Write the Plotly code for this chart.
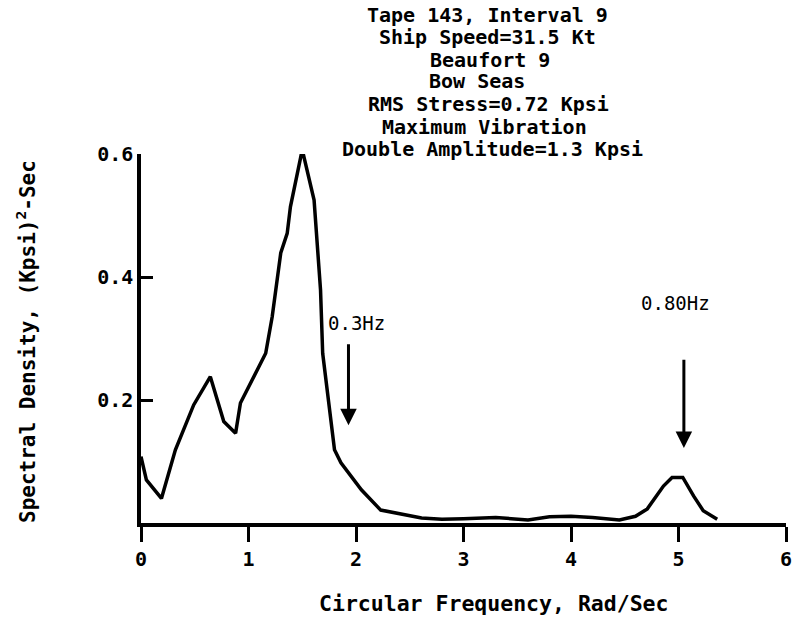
import plotly.graph_objects as go

# Data
freq = [0, 0.05, 0.19, 0.32, 0.49, 0.645, 0.77, 0.88, 0.925, 1.03, 1.16, 1.22,
        1.30, 1.36, 1.39, 1.50, 1.61, 1.67, 1.69, 1.80, 1.86, 2.05, 2.23, 2.61,
        2.8, 3.0, 3.3, 3.6, 3.8, 4.0, 4.2, 4.45, 4.6, 4.71, 4.86, 4.94, 5.04,
        5.14, 5.23, 5.36]
density = [0.108, 0.07, 0.04, 0.119, 0.192, 0.238, 0.165, 0.146, 0.195, 0.232,
           0.276, 0.335, 0.439, 0.471, 0.514, 0.607, 0.525, 0.379, 0.276, 0.119,
           0.098, 0.054, 0.021, 0.008, 0.006, 0.007, 0.009, 0.005, 0.010, 0.011,
           0.009, 0.005, 0.011, 0.023, 0.060, 0.074, 0.074, 0.044, 0.020, 0.006]

x_ticks = [0, 1, 2, 3, 4, 5, 6]
x_tick_labels = ["0", "1", "2", "3", "4", "5", "6"]
y_ticks = [0.2, 0.4, 0.6]
y_tick_labels = ["0.2", "0.4", "0.6"]

title_lines = ["Tape 143, Interval 9", "Ship Speed=31.5 Kt", "Beaufort 9",
               "Bow Seas", "RMS Stress=0.72 Kpsi", "Maximum Vibration",
               "Double Amplitude=1.3 Kpsi"]
title_x_px = [487, 487, 490, 477, 488, 484, 492]
title_y_px = [15, 37, 60, 81, 104, 127, 149]

marker_labels = ["0.3Hz", "0.80Hz"]
marker_freq = [1.93, 5.05]
marker_top = [0.293, 0.268]
marker_head = [0.159, 0.122]
marker_label_x = [2.0, 4.97]
marker_label_y = [0.325, 0.358]

FONT = "DejaVu Sans Mono"
W, H = 797, 618
L, R, T, B = 141, 11, 154, 95
PW, PH = W - L - R, H - T - B

def px_to_paper_x(px):
    return (px - L) / PW

def px_to_paper_y(py):
    return (H - B - py) / PH

fig = go.Figure()
fig.add_trace(go.Scatter(x=freq, y=density, mode="lines",
                         line=dict(color="black", width=3.5),
                         cliponaxis=False, showlegend=False))

annotations = []
for txt, tx, ty in zip(title_lines, title_x_px, title_y_px):
    annotations.append(dict(text=txt, x=px_to_paper_x(tx), y=px_to_paper_y(ty),
                            xref="paper", yref="paper", showarrow=False,
                            xanchor="center", yanchor="middle",
                            font=dict(family=FONT, size=20, color="black", weight="bold")))

for lab, fx, top, head, lx, ly in zip(marker_labels, marker_freq, marker_top,
                                      marker_head, marker_label_x, marker_label_y):
    annotations.append(dict(text="", x=fx, y=head, ax=fx, ay=top,
                            xref="x", yref="y", axref="x", ayref="y",
                            showarrow=True, arrowhead=2, arrowsize=1.1,
                            arrowwidth=3, arrowcolor="black"))
    annotations.append(dict(text=lab, x=lx, y=ly, xref="x", yref="y",
                            showarrow=False, xanchor="center", yanchor="middle",
                            font=dict(family=FONT, size=19, color="black")))

annotations.append(dict(text="Circular Frequency, Rad/Sec",
                        x=px_to_paper_x(494), y=px_to_paper_y(603),
                        xref="paper", yref="paper", showarrow=False,
                        xanchor="center", yanchor="middle",
                        font=dict(family=FONT, size=21.5, color="black", weight="bold")))
annotations.append(dict(text="Spectral Density, (Kpsi)<sup>2</sup>-Sec",
                        x=px_to_paper_x(26), y=px_to_paper_y(342),
                        xref="paper", yref="paper", showarrow=False, textangle=-90,
                        xanchor="center", yanchor="middle",
                        font=dict(family=FONT, size=21, color="black", weight="bold")))

fig.update_layout(
    width=W, height=H,
    margin=dict(l=L, r=R, t=T, b=B, autoexpand=False),
    paper_bgcolor="white", plot_bgcolor="white",
    annotations=annotations,
    xaxis=dict(range=[0, 6], tickvals=x_ticks, ticktext=x_tick_labels,
               showgrid=False, zeroline=False, showline=True, linecolor="black",
               linewidth=3.5, ticks="outside", ticklen=15, tickwidth=3,
               tickcolor="black",
               tickfont=dict(family=FONT, size=20, color="black", weight="bold")),
    yaxis=dict(range=[0, 0.6], tickvals=y_ticks, ticktext=y_tick_labels,
               showgrid=False, zeroline=False, showline=True, linecolor="black",
               linewidth=3.5, ticks="inside", ticklen=12, tickwidth=3,
               tickcolor="black",
               tickfont=dict(family=FONT, size=20, color="black", weight="bold")),
)

fig.write_html("out.html", config={"displayModeBar": False},
               post_script="document.body.style.margin='0';document.body.style.overflow='hidden';")
